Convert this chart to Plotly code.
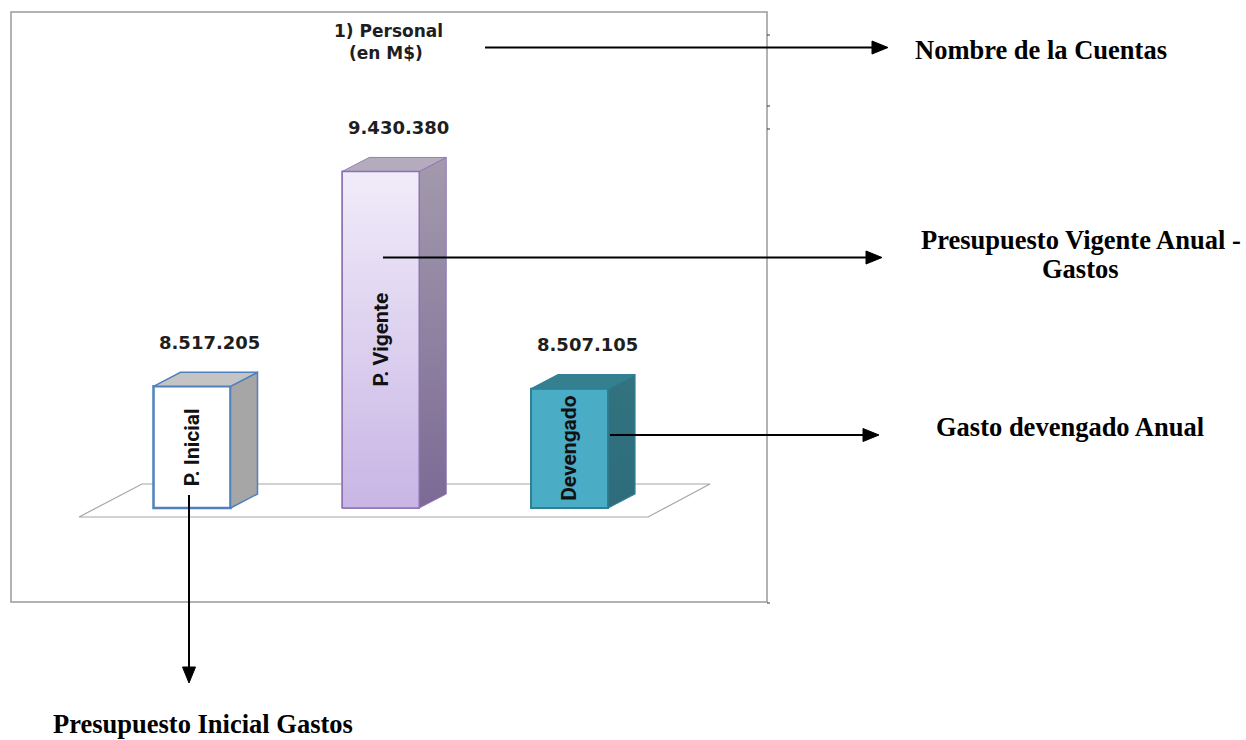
import plotly.graph_objects as go

# ---- data -------------------------------------------------------------
categories = ["P. Inicial", "P. Vigente", "Devengado"]
values = [8517205, 9430380, 8507105]          # en M$
chart_title = ["1) Personal", "(en M$)"]
callouts = [
    "Nombre de la Cuentas",
    "Presupuesto Vigente Anual -",
    "Gastos",
    "Gasto devengado Anual",
    "Presupuesto Inicial Gastos",
]

# ---- page / axis geometry ----------------------------------------------
W, H = 1246, 740
BASE = 8_000_000            # value axis origin of the column chart
UNIT_PX = 188.75            # pixels between category centres
X0_PX = 192                 # pixel x of first category centre
VAL_PER_PX = 4250           # value units per vertical pixel
BASE_PX = 508               # pixel y of the column bases

BAR_W = 77 / UNIT_PX        # column front width (x units)
DX = 27 / UNIT_PX           # 3-D depth, horizontal
DY = 14 * VAL_PER_PX        # 3-D depth, vertical

x_range = [-X0_PX / UNIT_PX, (W - X0_PX) / UNIT_PX]
y_range = [BASE - (H - BASE_PX) * VAL_PER_PX, BASE + BASE_PX * VAL_PER_PX]


def fx(px):
    return px / W


def fy(py):
    return 1 - py / H


# column styling: front, edge, edge width, side (bottom, top), top face
styles = [
    dict(front="#ffffff", edge="#4f81bd", ew=2.5, side=("#a6a6a6", "#a6a6a6"), top="#c4c4c4"),
    dict(front="#dccfee", edge="#8d72b5", ew=1.5, side=("#7c6a95", "#a29aad"), top="#b4acbd"),
    dict(front="#4bacc6", edge="#2f8096", ew=2.0, side=("#2e6c7c", "#32737f"), top="#35808f"),
]

fig = go.Figure()

xs_idx = list(range(len(categories)))

# front faces of the columns
fig.add_trace(go.Bar(
    x=xs_idx,
    y=[v - BASE for v in values],
    base=BASE,
    width=BAR_W,
    marker=dict(
        color=[s["front"] for s in styles],
        line=dict(color=[s["edge"] for s in styles], width=[s["ew"] for s in styles]),
    ),
    hoverinfo="skip",
    showlegend=False,
))

# side and top faces giving the 3-D look
for i, (v, s) in enumerate(zip(values, styles)):
    xl, xr = i - BAR_W / 2, i + BAR_W / 2
    side = dict(
        x=[xr, xr + DX, xr + DX, xr, xr],
        y=[BASE, BASE + DY, v + DY, v, BASE],
        mode="lines", fill="toself",
        line=dict(color=s["edge"], width=s["ew"] * 0.6),
        hoverinfo="skip", showlegend=False,
    )
    if s["side"][0] != s["side"][1]:
        side["fillgradient"] = dict(
            type="vertical",
            colorscale=[[0, s["side"][0]], [1, s["side"][1]]],
            start=BASE, stop=v + DY,
        )
    else:
        side["fillcolor"] = s["side"][0]
    fig.add_trace(go.Scatter(**side))

    fig.add_trace(go.Scatter(
        x=[xl, xr, xr + DX, xl + DX, xl],
        y=[v, v, v + DY, v + DY, v],
        mode="lines", fill="toself", fillcolor=s["top"],
        line=dict(color=s["edge"], width=s["ew"] * 0.6),
        hoverinfo="skip", showlegend=False,
    ))

# lavender gradient on the front of the tallest column
iv = 1
xl, xr = iv - BAR_W / 2, iv + BAR_W / 2
fig.add_trace(go.Scatter(
    x=[xl, xr, xr, xl, xl],
    y=[BASE, BASE, values[iv], values[iv], BASE],
    mode="lines", fill="toself",
    fillgradient=dict(type="vertical",
                      colorscale=[[0, "#c8b5e5"], [1, "#f1ecf9"]],
                      start=BASE, stop=values[iv]),
    line=dict(color=styles[iv]["edge"], width=1.5),
    hoverinfo="skip", showlegend=False,
))

annotations = []

# value labels above the columns
VALUE_FONT = dict(family="DejaVu Sans, Verdana, sans-serif", size=18, color="#1e1e1e", weight="bold")
for i, v in enumerate(values):
    annotations.append(dict(
        x=i + DX * 0.65, y=v, xref="x", yref="y",
        text=f"{v:,}".replace(",", "."),
        showarrow=False, yshift=44, xanchor="center", yanchor="middle",
        font=VALUE_FONT,
    ))

# category names written vertically inside the columns
CAT_FONT = dict(family="Liberation Sans Narrow, Roboto, Arial, sans-serif", size=21, color="#111111", weight="bold")
for i, (c, v) in enumerate(zip(categories, values)):
    annotations.append(dict(
        x=i, y=BASE + (v - BASE) / 2, xref="x", yref="y",
        text=c, textangle=-90, showarrow=False,
        xanchor="center", yanchor="middle", font=CAT_FONT,
    ))

# chart title
TITLE_FONT = dict(family="DejaVu Sans, Verdana, sans-serif", size=17, color="#1e1e1e", weight="bold")
for txt, (cx, cy) in zip(chart_title, [(388.5, 31), (385.5, 53)]):
    annotations.append(dict(
        x=fx(cx), y=fy(cy), xref="paper", yref="paper", text=txt,
        showarrow=False, xanchor="center", yanchor="middle", font=TITLE_FONT,
    ))

# explanatory callouts
NOTE_FONT = dict(family="Liberation Serif, Times New Roman, serif", size=26.5, color="#000000", weight="bold")
for txt, (cx, cy) in zip(callouts, [(1041, 50), (1080.5, 240), (1080, 269), (1070, 426.5), (203, 724)]):
    annotations.append(dict(
        x=fx(cx), y=fy(cy), xref="paper", yref="paper", text=txt,
        showarrow=False, xanchor="center", yanchor="middle", font=NOTE_FONT,
    ))

shapes = []

# chart frame
shapes.append(dict(type="rect", xref="paper", yref="paper",
                   x0=fx(11), x1=fx(767), y0=fy(602), y1=fy(12),
                   line=dict(color="#9a9a9a", width=1.5), fillcolor="rgba(0,0,0,0)",
                   layer="below"))
for ty in (35, 106, 129, 603):
    shapes.append(dict(type="line", xref="paper", yref="paper",
                       x0=fx(767), x1=fx(770), y0=fy(ty), y1=fy(ty),
                       line=dict(color="#333333", width=1)))

# floor of the 3-D chart
floor = [(79, 517), (648, 517), (710, 484), (142, 484)]
path = "M " + " L ".join(f"{fx(a)},{fy(b)}" for a, b in floor) + " Z"
shapes.append(dict(type="path", xref="paper", yref="paper", path=path,
                   line=dict(color="#a6a6a6", width=1.2), fillcolor="#ffffff",
                   layer="below"))

# pointer arrows: start, tip
arrows = [((485, 47.5), (888, 47.5)),
          ((383, 257.5), (882, 257.5)),
          ((610, 435), (879, 435)),
          ((189, 495), (189, 683))]
HEAD_L, HEAD_HW = 16, 6.5
for (sx, sy), (tx, ty) in arrows:
    if sy == ty:
        bx, by = tx - HEAD_L, ty
        head = [(bx, by - HEAD_HW), (tx, ty), (bx, by + HEAD_HW)]
    else:
        bx, by = tx, ty - HEAD_L
        head = [(bx - HEAD_HW, by), (tx, ty), (bx + HEAD_HW, by)]
    shapes.append(dict(type="line", xref="paper", yref="paper",
                       x0=fx(sx), y0=fy(sy), x1=fx(bx), y1=fy(by),
                       line=dict(color="#000000", width=2)))
    hp = "M " + " L ".join(f"{fx(a)},{fy(b)}" for a, b in head) + " Z"
    shapes.append(dict(type="path", xref="paper", yref="paper", path=hp,
                       line=dict(color="#000000", width=1), fillcolor="#000000"))

fig.update_layout(
    width=W, height=H,
    margin=dict(l=0, r=0, t=0, b=0),
    paper_bgcolor="#ffffff", plot_bgcolor="#ffffff",
    xaxis=dict(range=x_range, visible=False, fixedrange=True, domain=[0, 1]),
    yaxis=dict(range=y_range, visible=False, fixedrange=True, domain=[0, 1]),
    annotations=annotations,
    shapes=shapes,
    showlegend=False,
    barmode="overlay",
)

fig.write_html("out.html")
